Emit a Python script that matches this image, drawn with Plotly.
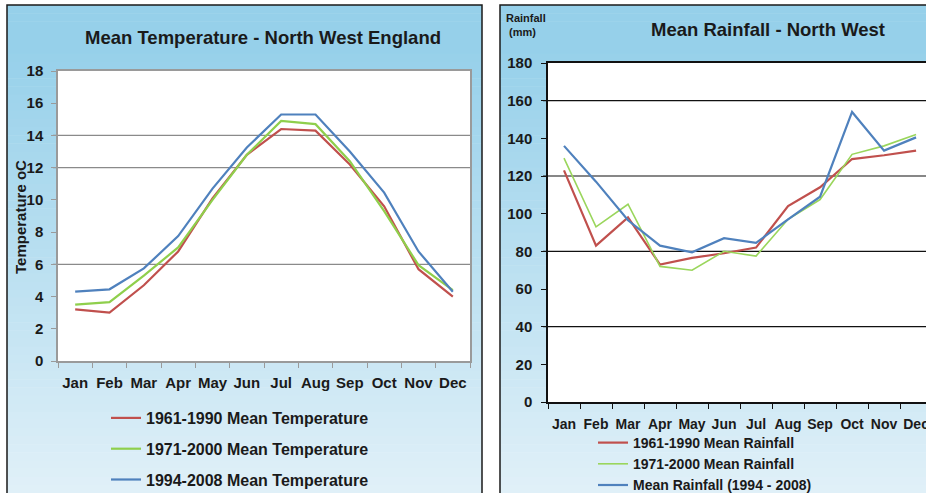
import plotly.graph_objects as go

MONTHS = ["Jan", "Feb", "Mar", "Apr", "May", "Jun", "Jul", "Aug", "Sep", "Oct", "Nov", "Dec"]

TEMP_1961_1990 = [3.2, 3.0, 4.7, 6.8, 10.1, 12.8, 14.4, 14.3, 12.2, 9.6, 5.7, 4.0]
TEMP_1971_2000 = [3.5, 3.65, 5.3, 7.05, 10.0, 12.8, 14.9, 14.7, 12.4, 9.3, 5.95, 4.4]
TEMP_1994_2008 = [4.3, 4.45, 5.75, 7.75, 10.7, 13.25, 15.3, 15.3, 13.0, 10.45, 6.8, 4.3]

RAIN_1961_1990 = [123, 83, 98, 73, 76.5, 79, 82, 104, 114, 129, 131, 133.5]
RAIN_1971_2000 = [129.5, 93, 105, 72, 70, 80, 77.5, 97, 107.5, 131.5, 136, 142]
RAIN_1994_2008 = [136, 117, 96.5, 83, 79.5, 87, 84.5, 97, 109, 154, 133.5, 140.5]

TEMP_NAMES = ["1961-1990 Mean Temperature", "1971-2000 Mean Temperature", "1994-2008 Mean Temperature"]
RAIN_NAMES = ["1961-1990 Mean Rainfall", "1971-2000 Mean Rainfall", "Mean Rainfall (1994 - 2008)"]

TEMP_TICKS = [0, 2, 4, 6, 8, 10, 12, 14, 16, 18]
RAIN_TICKS = [0, 20, 40, 60, 80, 100, 120, 140, 160, 180]
TEMP_GRID = [6, 12, 14]
RAIN_GRID = [40, 80, 120, 160]

W, H = 926, 493
FONT = "Liberation Sans, Arial, sans-serif"

RED = "#c0504d"
GREEN_L = "#8fcf4c"
GREEN_R = "#9ad65c"
BLUE = "#4f81bd"

def px(x):
    return x / W

def py(y):
    return 1 - y / H

fig = go.Figure()

for name, vals, col in zip(TEMP_NAMES, [TEMP_1961_1990, TEMP_1971_2000, TEMP_1994_2008], [RED, GREEN_L, BLUE]):
    fig.add_trace(go.Scatter(x=MONTHS, y=vals, name=name, mode="lines",
                             line=dict(color=col, width=2.2), xaxis="x", yaxis="y",
                             legend="legend", legendgroup=name))

for name, vals, col, wd in zip(RAIN_NAMES, [RAIN_1961_1990, RAIN_1971_2000, RAIN_1994_2008],
                               [RED, GREEN_R, BLUE], [2.2, 1.6, 2.2]):
    fig.add_trace(go.Scatter(x=MONTHS, y=vals, name=name, mode="lines",
                             line=dict(color=col, width=wd), xaxis="x2", yaxis="y2",
                             legend="legend2"))

shapes = []
# gradient panel backgrounds
top_c = (150, 208, 234)
bot_c = (224, 240, 248)
nb = 60
y0, y1 = 5, 493
for i in range(nb):
    t = i / (nb - 1)
    tt = max(0.0, (t - 0.08) / 0.92)
    c = tuple(int(round(top_c[k] + (bot_c[k] - top_c[k]) * tt)) for k in range(3))
    ya = y0 + (y1 - y0) * i / nb
    yb = y0 + (y1 - y0) * (i + 1) / nb + 0.5
    for xa, xb in [(7, 482), (500, 930)]:
        shapes.append(dict(type="rect", xref="paper", yref="paper", x0=px(xa), x1=px(xb),
                           y0=py(ya), y1=py(yb), fillcolor="rgb(%d,%d,%d)" % c,
                           line=dict(width=0), layer="below"))
# panel borders
for xa, xb in [(7, 482), (500, 940)]:
    shapes.append(dict(type="rect", xref="paper", yref="paper", x0=px(xa), x1=px(xb),
                       y0=py(5), y1=py(510), fillcolor="rgba(0,0,0,0)",
                       line=dict(color="#1a1a1a", width=1.5), layer="below"))
# plot area white
shapes.append(dict(type="rect", xref="x domain", yref="y domain", x0=0, x1=1, y0=0, y1=1,
                   fillcolor="white", line=dict(width=0), layer="below"))
shapes.append(dict(type="rect", xref="x2 domain", yref="y2 domain", x0=0, x1=1, y0=0, y1=1,
                   fillcolor="white", line=dict(width=0), layer="below"))
for g in TEMP_GRID:
    shapes.append(dict(type="line", xref="x domain", yref="y", x0=-0.012, x1=1, y0=g, y1=g,
                       line=dict(color="#8a8a8a", width=1.2), layer="below"))
for g in RAIN_GRID:
    shapes.append(dict(type="line", xref="x2 domain", yref="y2", x0=-0.013, x1=1, y0=g, y1=g,
                       line=dict(color="#111111", width=1.2), layer="below"))

fig.update_layout(
    width=W, height=H, margin=dict(l=0, r=0, t=0, b=0, autoexpand=False),
    paper_bgcolor="white", plot_bgcolor="rgba(0,0,0,0)",
    font=dict(family=FONT, size=15, color="#1a1a1a"),
    shapes=shapes,
    xaxis=dict(domain=[px(58), px(470)], type="category", range=[-0.5, 11.5],
               showgrid=False, showline=True, linecolor="#9a9a9a", linewidth=1.5, mirror=True,
               ticks="outside", ticklen=5, tickcolor="#9a9a9a", tickson="boundaries",
               tickangle=0, tickfont=dict(size=15, family=FONT, weight="bold"),
               ticklabelstandoff=7, anchor="y", fixedrange=True),
    yaxis=dict(domain=[py(361), py(71)], range=[0, 18], tickvals=TEMP_TICKS,
               showgrid=False, showline=True, linecolor="#9a9a9a", linewidth=1.5, mirror=True,
               ticks="outside", ticklen=5, tickcolor="#9a9a9a",
               tickfont=dict(size=15, family=FONT, weight="bold"), ticklabelstandoff=5,
               zeroline=False, anchor="x", fixedrange=True),
    xaxis2=dict(domain=[px(548), 1], type="category", range=[-0.5, 11.31],
                showgrid=False, showline=True, linecolor="#111111", linewidth=1.5, mirror=True,
                ticks="outside", ticklen=5, tickcolor="#111111", tickson="boundaries",
                tickangle=0, tickfont=dict(size=14, family=FONT, weight="bold"),
                ticklabelstandoff=8, anchor="y2", fixedrange=True),
    yaxis2=dict(domain=[py(402), py(63)], range=[0, 180], tickvals=RAIN_TICKS,
                showgrid=False, showline=True, linecolor="#111111", linewidth=1.5,
                ticks="outside", ticklen=5, tickcolor="#111111",
                tickfont=dict(size=15, family=FONT, weight="bold"), ticklabelstandoff=6,
                zeroline=False, anchor="x2", fixedrange=True),
    legend=dict(x=px(106), y=py(401), xanchor="left", yanchor="top",
                bgcolor="rgba(0,0,0,0)", tracegroupgap=7,
                font=dict(size=16, family=FONT, weight="bold")),
    legend2=dict(x=px(593), y=py(427), xanchor="left", yanchor="top",
                 bgcolor="rgba(0,0,0,0)", tracegroupgap=0,
                 font=dict(size=14, family=FONT, weight="bold")),
    annotations=[
        dict(text="Mean Temperature - North West England", x=px(263), y=py(38),
             xref="paper", yref="paper", showarrow=False, xanchor="center", yanchor="middle",
             font=dict(size=18.5, family=FONT, weight="bold", color="#1a1a1a")),
        dict(text="Mean Rainfall - North West", x=px(768), y=py(30),
             xref="paper", yref="paper", showarrow=False, xanchor="center", yanchor="middle",
             font=dict(size=18.5, family=FONT, weight="bold", color="#1a1a1a")),
        dict(text="Rainfall<br> (mm)", x=px(504), y=py(10), xref="paper", yref="paper",
             showarrow=False, xanchor="left", yanchor="top", align="left",
             font=dict(size=11, family=FONT, weight="bold", color="#1a1a1a")),
        dict(text="Temperature oC", x=px(21), y=py(217), xref="paper", yref="paper",
             showarrow=False, xanchor="center", yanchor="middle", textangle=-90,
             font=dict(size=15, family=FONT, weight="bold", color="#1a1a1a")),
    ],
)

POST = ("var d=document.getElementById('{plot_id}');"
        "d.style.position='fixed';d.style.left='0px';d.style.top='0px';"
        "document.body.style.margin='0';document.body.style.padding='0';"
        "document.body.style.overflow='hidden';"
        "document.documentElement.style.overflow='hidden';")

fig.write_html("out.html", config={"displayModeBar": False},
               post_script=POST)
